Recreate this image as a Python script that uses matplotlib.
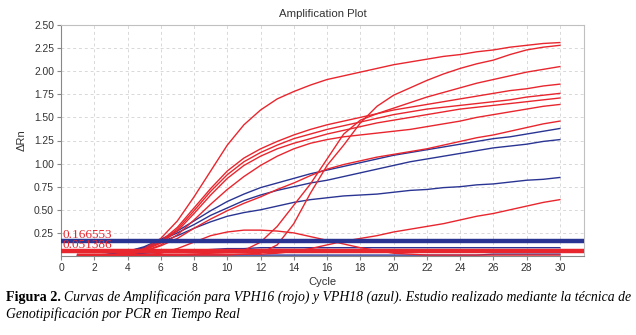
import numpy as np
import matplotlib
matplotlib.use("Agg")
import matplotlib.pyplot as plt

cycles = list(range(1, 31))

red_A = [0.00,0.00,0.01,0.03,0.08,0.19,0.38,0.64,0.92,1.20,1.42,1.58,1.70,1.78,1.85,1.91,1.95,1.99,2.03,2.07,2.10,2.13,2.16,2.18,2.21,2.23,2.26,2.28,2.30,2.31]
red_B = [0.01,0.01,0.01,0.01,0.01,0.01,0.01,0.01,0.01,0.01,0.02,0.03,0.12,0.35,0.68,0.98,1.20,1.44,1.62,1.74,1.82,1.90,1.97,2.03,2.08,2.12,2.18,2.23,2.26,2.28]
red_C = [0.01,0.01,0.01,0.01,0.01,0.01,0.01,0.02,0.03,0.04,0.06,0.15,0.32,0.55,0.78,1.05,1.32,1.47,1.54,1.60,1.66,1.72,1.77,1.82,1.87,1.91,1.95,1.99,2.02,2.05]
red_D = [0.00,0.00,0.01,0.03,0.07,0.16,0.31,0.52,0.73,0.92,1.06,1.16,1.24,1.31,1.37,1.42,1.46,1.50,1.54,1.58,1.61,1.64,1.67,1.70,1.73,1.76,1.79,1.81,1.84,1.86]
red_E = [0.00,0.00,0.01,0.03,0.07,0.15,0.29,0.49,0.70,0.88,1.02,1.12,1.20,1.27,1.32,1.37,1.41,1.45,1.49,1.53,1.56,1.59,1.61,1.63,1.65,1.67,1.69,1.72,1.74,1.76]
red_F = [0.00,0.00,0.01,0.02,0.06,0.14,0.27,0.46,0.66,0.84,0.98,1.08,1.16,1.22,1.27,1.32,1.36,1.40,1.44,1.47,1.50,1.53,1.56,1.59,1.61,1.63,1.65,1.67,1.69,1.71]
red_H = [0.00,0.00,0.01,0.02,0.05,0.12,0.23,0.39,0.56,0.72,0.86,0.98,1.08,1.16,1.22,1.26,1.29,1.31,1.33,1.35,1.37,1.40,1.43,1.46,1.50,1.53,1.56,1.59,1.62,1.64]
red_I = [0.00,0.00,0.01,0.02,0.05,0.11,0.19,0.30,0.40,0.49,0.57,0.64,0.72,0.79,0.87,0.94,0.99,1.03,1.07,1.10,1.13,1.16,1.20,1.24,1.28,1.31,1.35,1.39,1.43,1.46]
red_J = [0.02,0.02,0.02,0.02,0.02,0.02,0.02,0.02,0.02,0.02,0.02,0.02,0.03,0.05,0.08,0.12,0.16,0.19,0.22,0.26,0.29,0.32,0.35,0.39,0.43,0.46,0.50,0.54,0.58,0.61]
red_K = [0.01,0.01,0.01,0.01,0.01,0.03,0.08,0.15,0.22,0.26,0.28,0.28,0.27,0.25,0.21,0.17,0.13,0.09,0.06,0.03,0.02,0.01,0.01,0.01,0.01,0.01,0.01,0.01,0.01,0.01]
red_L = [0.04,0.04,0.04,0.05,0.05,0.05,0.05,0.05,0.06,0.06,0.06,0.07,0.07,0.07,0.07,0.07,0.06,0.06,0.06,0.06,0.06,0.06,0.06,0.06,0.06,0.06,0.06,0.06,0.06,0.06]

blue_1 = [0.00,0.00,0.02,0.05,0.10,0.18,0.27,0.38,0.49,0.59,0.67,0.74,0.79,0.84,0.89,0.93,0.97,1.01,1.05,1.09,1.12,1.15,1.18,1.21,1.24,1.27,1.29,1.32,1.35,1.38]
blue_2 = [0.00,0.00,0.02,0.05,0.09,0.17,0.25,0.34,0.44,0.52,0.60,0.66,0.71,0.75,0.79,0.82,0.86,0.90,0.94,0.98,1.02,1.05,1.08,1.11,1.14,1.17,1.19,1.21,1.24,1.26]
blue_3 = [0.00,0.00,0.02,0.04,0.08,0.15,0.22,0.30,0.37,0.43,0.47,0.50,0.54,0.58,0.61,0.63,0.65,0.66,0.67,0.69,0.71,0.72,0.74,0.75,0.77,0.78,0.80,0.82,0.83,0.85]
blue_4 = [0.01,0.01,0.02,0.02,0.03,0.04,0.05,0.06,0.07,0.08,0.08,0.09,0.09,0.09,0.09,0.09,0.09,0.09,0.09,0.09,0.09,0.09,0.09,0.09,0.09,0.09,0.09,0.09,0.09,0.09]
blue_5 = [0.01,0.01,0.01,0.01,0.01,0.01,0.01,0.01,0.01,0.01,0.01,0.01,0.01,0.01,0.01,0.01,0.01,0.01,0.01,0.01,0.01,0.01,0.01,0.01,0.01,0.02,0.02,0.02,0.02,0.02]

red_series = [red_A, red_B, red_C, red_D, red_E, red_F, red_H, red_I, red_J, red_K, red_L]
blue_series = [blue_1, blue_2, blue_3, blue_4, blue_5]

threshold_blue = 0.166553
threshold_red = 0.051386
threshold_labels = ["0.166553", "0.051386"]

x_ticks = list(range(0, 31, 2))
y_ticks = [0.25, 0.50, 0.75, 1.00, 1.25, 1.50, 1.75, 2.00, 2.25, 2.50]

RED = "#e8262e"
BLUE = "#2a3593"

plt.rcParams['font.family'] = ['Liberation Sans', 'DejaVu Sans']

fig = plt.figure(figsize=(6.36, 3.35), dpi=100)
ax = fig.add_axes([61/636, 1 - 256/335, (584-61)/636, (256-25)/335])

for s in blue_series:
    ax.plot(cycles, s, color=BLUE, lw=1.0, zorder=3)
for s in red_series:
    ax.plot(cycles, s, color=RED, lw=1.0, zorder=3)

ax.axhline(threshold_blue, color=BLUE, lw=3.2, zorder=4)
ax.axhline(threshold_red, color=RED, lw=3.2, zorder=4)
ax.text(0.1, threshold_blue, threshold_labels[0], color=RED, family='Liberation Serif',
        fontsize=9.5, va='bottom', ha='left', zorder=5)
ax.text(0.1, threshold_red, threshold_labels[1], color=RED, family='Liberation Serif',
        fontsize=9.5, va='bottom', ha='left', zorder=5)

ax.set_xlim(0, 31.45)
ax.set_ylim(0, 2.5)
ax.set_xticks(x_ticks)
ax.set_yticks(y_ticks)
ax.set_yticklabels([f"{v:.2f}" for v in y_ticks])
ax.tick_params(labelsize=7.4, length=3, color="#888888", labelcolor="#333333", pad=2)
ax.grid(True, color="#d8d8d8", ls=(0, (3, 3)), lw=0.7)
for side in ["left", "bottom"]:
    ax.spines[side].set_color("#888888")
for side in ["top", "right"]:
    ax.spines[side].set_color("#c0c0c0")

ax.set_title("Amplification Plot", fontsize=8.2, color="#333333", pad=6)
ax.set_xlabel("Cycle", fontsize=8, color="#333333", labelpad=3)
ax.set_ylabel("ΔRn", fontsize=8, color="#333333", labelpad=5)

# Caption
fig.canvas.draw()
renderer = fig.canvas.get_renderer()
cap_fs = 10.2
bold = fig.text(6/636, 1 - 297/335, "Figura 2.", family='Liberation Serif', fontweight='bold',
                fontsize=cap_fs, va='center', ha='left')
bb = bold.get_window_extent(renderer)
ital_text = ("Curvas de Amplificación para VPH16 (rojo) y VPH18 (azul). "
             "Estudio realizado mediante la técnica de")
ital = fig.text((bb.x1 + 3) / 636, 1 - 297/335, ital_text, family='Liberation Serif',
                style='italic', fontsize=cap_fs, va='center', ha='left')
ib = ital.get_window_extent(renderer)
target = 631
scale = (target - ib.x0) / (ib.x1 - ib.x0)
ital.set_fontsize(cap_fs * scale)
fig.text(6/636, 1 - 314/335, "Genotipificación por PCR en Tiempo Real",
         family='Liberation Serif', style='italic', fontsize=ital.get_fontsize(),
         va='center', ha='left')

fig.savefig("out.png", dpi=100)
